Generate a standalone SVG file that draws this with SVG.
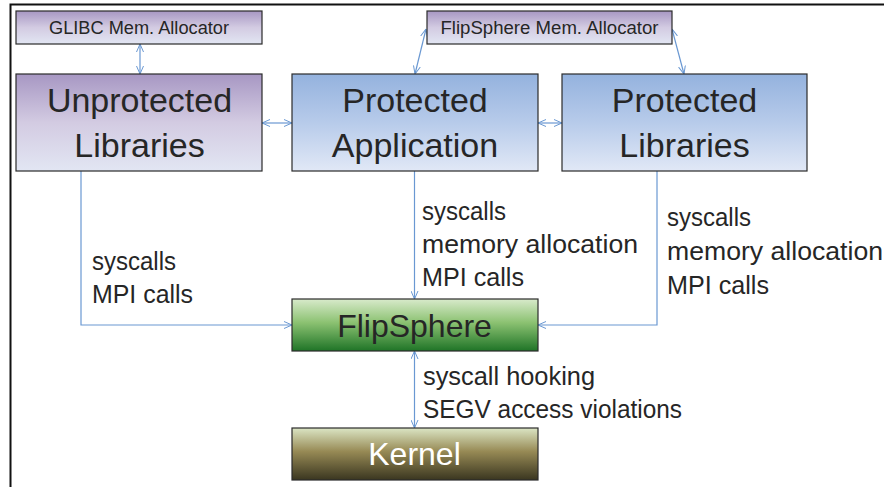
<svg xmlns="http://www.w3.org/2000/svg" width="884" height="487" viewBox="0 0 884 487">
<style>
text{font-family:"Liberation Sans","Open Sans",Arial,sans-serif;fill:#262626}
.box{stroke:#2b2b2b;stroke-width:1.2}
.big{font-size:34px;text-anchor:middle}
.small{font-size:17.5px;text-anchor:middle}
.lbl{font-size:25.5px}
.conn{fill:none;stroke:#6a98d2;stroke-width:1.2}
</style>
<defs>
<linearGradient id="gPurple" x1="0" y1="0" x2="0" y2="1">
<stop offset="0" stop-color="#a797c3"/><stop offset="0.5" stop-color="#d3cbe2"/><stop offset="1" stop-color="#e2e6f3"/>
</linearGradient>
<linearGradient id="gBlue" x1="0" y1="0" x2="0" y2="1">
<stop offset="0" stop-color="#94b2de"/><stop offset="0.5" stop-color="#b7cbea"/><stop offset="1" stop-color="#e1e8f6"/>
</linearGradient>
<linearGradient id="gGreen" x1="0" y1="0" x2="0" y2="1">
<stop offset="0" stop-color="#d8eacb"/><stop offset="0.45" stop-color="#8cc272"/><stop offset="1" stop-color="#1f7427"/>
</linearGradient>
<linearGradient id="gKernel" x1="0" y1="0" x2="0" y2="1">
<stop offset="0" stop-color="#dbe5c4"/><stop offset="0.45" stop-color="#978a55"/><stop offset="1" stop-color="#3a3620"/>
</linearGradient>
<marker id="arr" viewBox="0 0 8 8" refX="8" refY="4" markerWidth="8" markerHeight="8" markerUnits="userSpaceOnUse" orient="auto-start-reverse">
<path d="M0,0.5 L8,4 L0,7.5" fill="none" stroke="#6a98d2" stroke-width="1"/>
</marker>
</defs>
<rect width="884" height="487" fill="#fff"/>
<path d="M10.5,487 V4.5 H884" fill="none" stroke="#111" stroke-width="2"/>

<g id="connectors">
<path class="conn" d="M140,44 V74" marker-start="url(#arr)" marker-end="url(#arr)"/>
<path class="conn" d="M426,29 L415,74" marker-start="url(#arr)" marker-end="url(#arr)"/>
<path class="conn" d="M672,29 L684,74" marker-start="url(#arr)" marker-end="url(#arr)"/>
<path class="conn" d="M262,123 H292" stroke-width="1.8" stroke="#8fb0de" marker-start="url(#arr)" marker-end="url(#arr)"/>
<path class="conn" d="M538,123 H562" stroke-width="1.8" stroke="#8fb0de" marker-start="url(#arr)" marker-end="url(#arr)"/>
<path class="conn" d="M81,171 V325 H292" marker-end="url(#arr)"/>
<path class="conn" d="M657,171 V325 H538" marker-end="url(#arr)"/>
<path class="conn" d="M414.5,171 V299" marker-end="url(#arr)"/>
<path class="conn" d="M414.5,351 V428" marker-start="url(#arr)" marker-end="url(#arr)"/>
</g>

<g id="glibc-alloc">
<rect class="box" x="16" y="11" width="246" height="33" fill="url(#gPurple)"/>
<text class="small" x="139" y="34" textLength="180" lengthAdjust="spacingAndGlyphs">GLIBC Mem. Allocator</text>
</g>
<g id="flipsphere-alloc">
<rect class="box" x="427" y="11" width="245" height="33" fill="url(#gPurple)"/>
<text class="small" x="549.5" y="34" textLength="218" lengthAdjust="spacingAndGlyphs">FlipSphere Mem. Allocator</text>
</g>
<g id="unprotected-libs">
<rect class="box" x="16" y="74" width="246" height="97" fill="url(#gPurple)"/>
<text class="big" x="139.5" y="112">Unprotected</text>
<text class="big" x="139.5" y="157">Libraries</text>
</g>
<g id="protected-app">
<rect class="box" x="292" y="74" width="246" height="97" fill="url(#gBlue)"/>
<text class="big" x="415" y="112">Protected</text>
<text class="big" x="415" y="157">Application</text>
</g>
<g id="protected-libs">
<rect class="box" x="562" y="74" width="245" height="97" fill="url(#gBlue)"/>
<text class="big" x="684.5" y="112">Protected</text>
<text class="big" x="684.5" y="157">Libraries</text>
</g>
<g id="flipsphere">
<rect class="box" x="292" y="299" width="246" height="52" fill="url(#gGreen)"/>
<text class="big" x="414.5" y="337" style="font-size:32px">FlipSphere</text>
</g>
<g id="kernel">
<rect class="box" x="292" y="428" width="246" height="52" fill="url(#gKernel)"/>
<text class="big" x="414.5" y="465" style="font-size:32px;fill:#fff">Kernel</text>
</g>

<g id="labels">
<text class="lbl" x="92" y="270" textLength="84" lengthAdjust="spacingAndGlyphs">syscalls</text>
<text class="lbl" x="92" y="303" textLength="101" lengthAdjust="spacingAndGlyphs">MPI calls</text>
<text class="lbl" x="422" y="220" textLength="84" lengthAdjust="spacingAndGlyphs">syscalls</text>
<text class="lbl" x="422" y="253" textLength="216" lengthAdjust="spacingAndGlyphs">memory allocation</text>
<text class="lbl" x="422" y="286" textLength="102" lengthAdjust="spacingAndGlyphs">MPI calls</text>
<text class="lbl" x="667" y="226" textLength="84" lengthAdjust="spacingAndGlyphs">syscalls</text>
<text class="lbl" x="667" y="260" textLength="216" lengthAdjust="spacingAndGlyphs">memory allocation</text>
<text class="lbl" x="667" y="294" textLength="102" lengthAdjust="spacingAndGlyphs">MPI calls</text>
<text class="lbl" x="423" y="385" textLength="172" lengthAdjust="spacingAndGlyphs">syscall hooking</text>
<text class="lbl" x="423" y="418" textLength="259" lengthAdjust="spacingAndGlyphs">SEGV access violations</text>
</g>
</svg>
